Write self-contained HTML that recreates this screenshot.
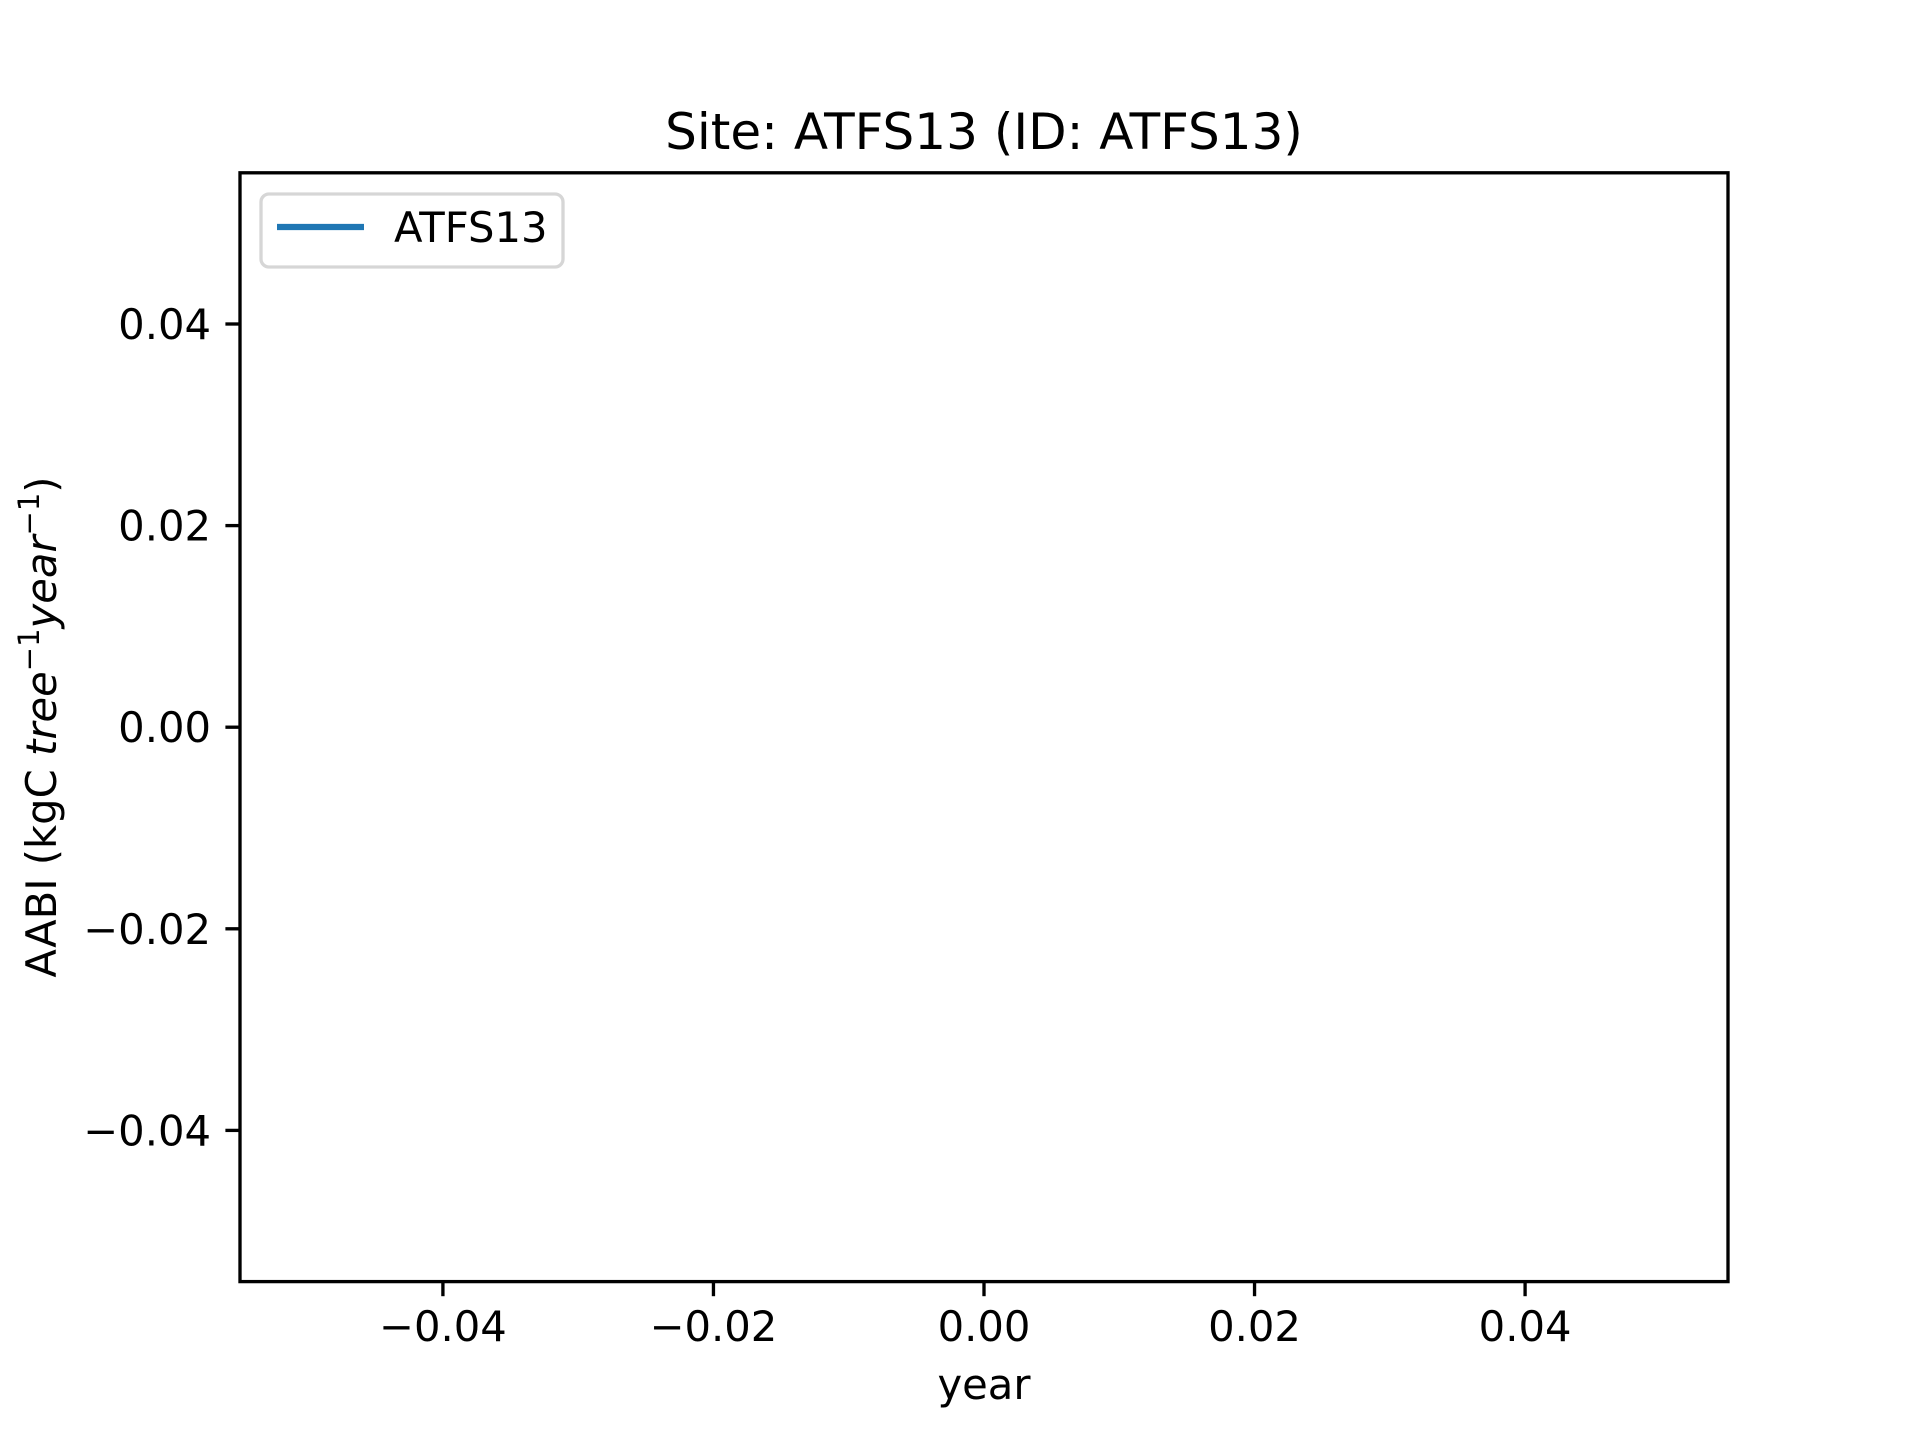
<!DOCTYPE html>
<html><head><meta charset="utf-8"><style>
html,body{margin:0;padding:0;background:#fff;}
svg{display:block;font-family:"DejaVu Sans","Liberation Sans",sans-serif;}
</style></head><body>
<svg id="chart" width="1920" height="1440" viewBox="0 0 1920 1440">
<rect x="0" y="0" width="1920" height="1440" fill="#fff"/>
<text x="984" y="149" font-size="50" text-anchor="middle">Site: ATFS13 (ID: ATFS13)</text>
<g id="xticks"></g>
<g id="yticks"></g>
<g id="series"></g>
<rect x="240" y="172.8" width="1488" height="1108.8" fill="none" stroke="#000" stroke-width="3.33"/>
<text x="984" y="1399" font-size="41.7" text-anchor="middle">year</text>
<text transform="translate(56,727) rotate(-90)" font-size="41.7" text-anchor="middle">AABI (kgC <tspan font-style="italic">tree</tspan><tspan font-size="29" dy="-17">−1</tspan><tspan font-style="italic" dy="17">year</tspan><tspan font-size="29" dy="-17">−1</tspan><tspan dy="17">)</tspan></text>
<g>
<rect x="261" y="194" width="302" height="73" rx="8" fill="#fff" fill-opacity="0.8" stroke="#d6d6d6" stroke-width="3.33"/>
<line x1="277" y1="227" x2="364" y2="227" stroke="#1f77b4" stroke-width="6.25"/>
<text x="394" y="242" font-size="41.7">ATFS13</text>
</g>
</svg>
<script>
const years = [];
const aabi = [];
const xTicks = [-0.04, -0.02, 0, 0.02, 0.04];
const xTickLabels = ["−0.04", "−0.02", "0.00", "0.02", "0.04"];
const yTicks = [-0.04, -0.02, 0, 0.02, 0.04];
const yTickLabels = ["−0.04", "−0.02", "0.00", "0.02", "0.04"];
const NS = "http://www.w3.org/2000/svg";
const L = 240, R = 1728, T = 172.8, B = 1281.6;
const xMin = -0.055, xMax = 0.055, yMin = -0.055, yMax = 0.055;
function sx(v){ return L + (v - xMin) / (xMax - xMin) * (R - L); }
function sy(v){ return B - (v - yMin) / (yMax - yMin) * (B - T); }
function mk(tag, attrs){ const e = document.createElementNS(NS, tag); for (const k in attrs) e.setAttribute(k, attrs[k]); return e; }
const gx = document.getElementById('xticks');
xTicks.forEach((v, i) => {
  const t = mk('line', {x1: sx(v), x2: sx(v), y1: B, y2: B + 14.6, stroke: '#000', 'stroke-width': 3.33});
  
  
  gx.appendChild(t);
  const l = mk('text', {x: sx(v), y: 1341, 'font-size': 41.7, 'text-anchor': 'middle'});
  l.textContent = xTickLabels[i];
  
  
  gx.appendChild(l);
});
const gy = document.getElementById('yticks');
yTicks.forEach((v, i) => {
  const t = mk('line', {x1: L - 14.6, x2: L, y1: sy(v), y2: sy(v), stroke: '#000', 'stroke-width': 3.33});
  
  
  gy.appendChild(t);
  const l = mk('text', {x: 211, y: sy(v) + 15, 'font-size': 41.7, 'text-anchor': 'end'});
  l.textContent = yTickLabels[i];
  
  
  gy.appendChild(l);
});
const gs = document.getElementById('series');
if (years.length) {
  const d = years.map((y, i) => (i ? 'L' : 'M') + sx(y) + ' ' + sy(aabi[i])).join(' ');
  const p = mk('path', {d: d, fill: 'none', stroke: '#1f77b4', 'stroke-width': 6.25});
  
  
  gs.appendChild(p);
}
</script>
</body></html>
